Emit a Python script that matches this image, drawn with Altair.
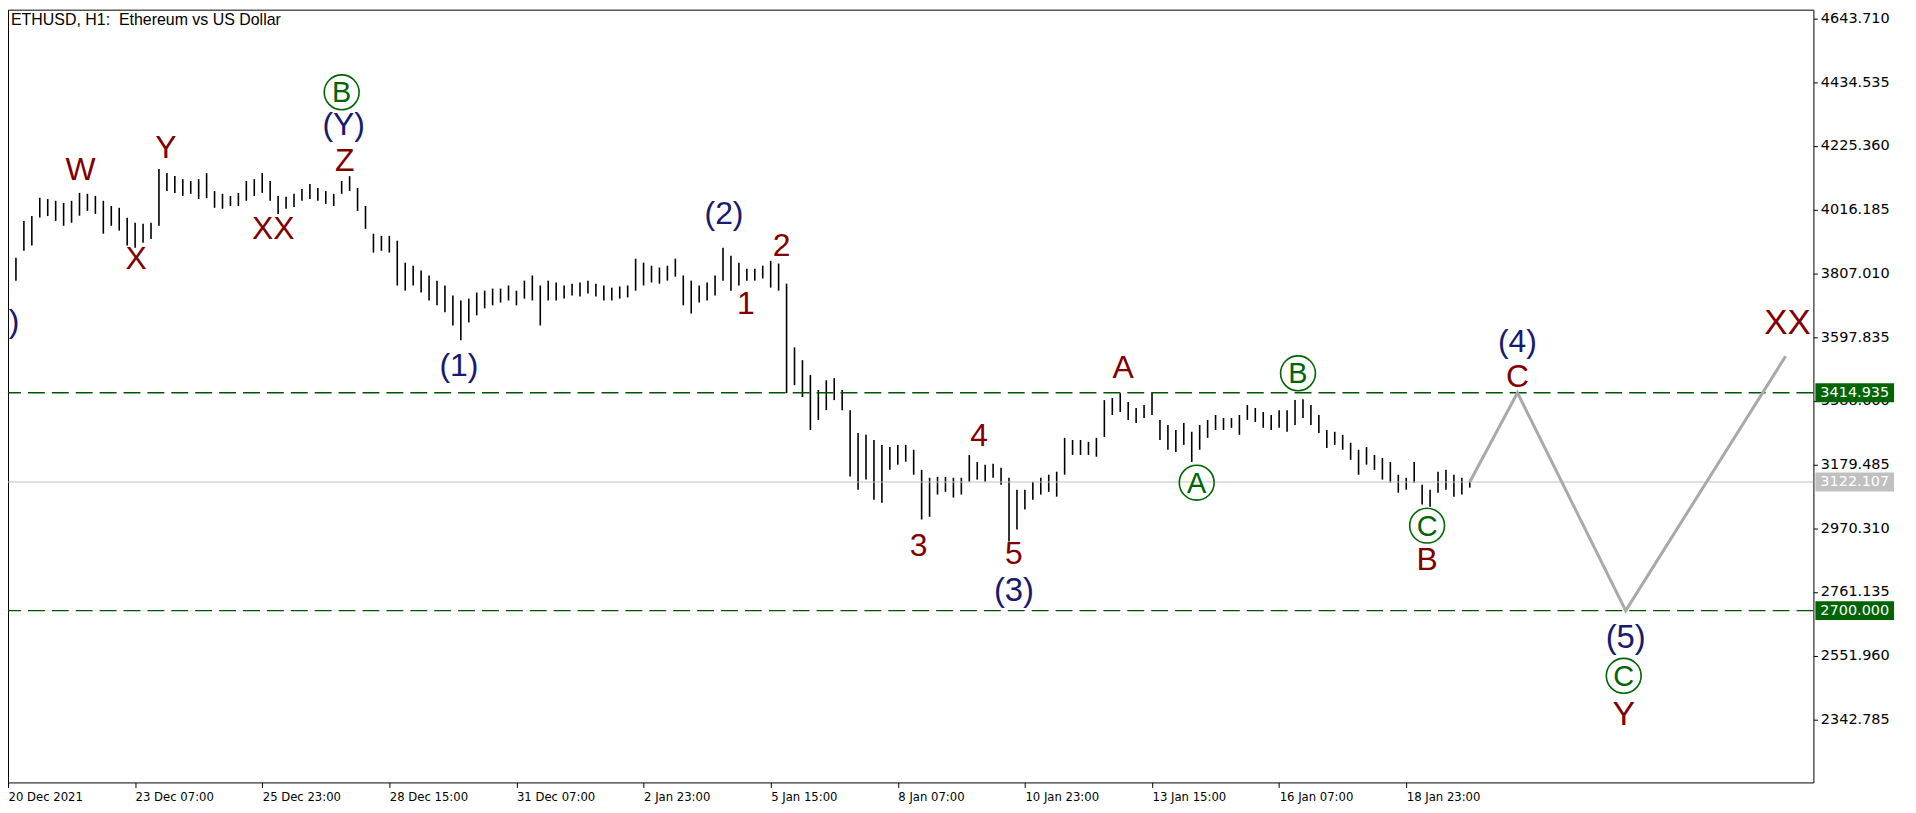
import json
import altair as alt
import pandas as pd

# ---------------- data ----------------
# 4-hour OHLC ranges (hour index from 20 Dec 2021 15:00)
bar_high = [3855,3858,3979,3995,4055,4051,4045,4038,4045,4071,
            4068,4061,4045,4028,4022,3989,3973,3970,3973,4149,
            4136,4126,4116,4110,4116,4136,4077,4068,4061,4071,
            4110,4116,4136,4110,4061,4058,4068,4084,4100,4087,
            4077,4068,4110,4126,4087,4028,3937,3930,3930,3914,
            3842,3832,3816,3800,3783,3767,3734,3718,3724,3744,
            3750,3757,3757,3767,3750,3783,3800,3767,3783,3777,
            3767,3773,3777,3783,3773,3767,3760,3764,3767,3855,
            3842,3832,3826,3832,3855,3800,3783,3767,3777,3800,
            3891,3865,3842,3822,3822,3832,3848,3839,3773,3564,
            3522,3473,3424,3456,3463,3424,3358,3283,3277,3260,
            3244,3237,3244,3244,3228,3162,3136,3139,3139,3136,
            3136,3211,3188,3179,3182,3169,3136,3097,3097,3123,
            3136,3146,3156,3267,3260,3260,3254,3267,3391,3398,
            3414,3385,3365,3375,3414,3326,3309,3293,3316,3287,
            3309,3326,3342,3332,3332,3342,3375,3365,3352,3342,
            3358,3358,3391,3394,3375,3342,3293,3287,3277,3251,
            3228,3237,3211,3201,3188,3146,3136,3188,3113,3097,
            3156,3162,3146,3136,3130]
bar_low = [3750,3783,3881,3898,3990,3995,3979,3963,3973,3996,
           4012,4002,3937,3963,3947,3898,3891,3907,3920,3963,
           4077,4071,4061,4068,4051,4054,4022,4019,4028,4028,
           4045,4061,4071,4045,4002,4019,4025,4045,4051,4045,
           4035,4028,4068,4077,4012,3953,3875,3881,3875,3767,
           3750,3767,3744,3718,3702,3679,3636,3587,3646,3669,
           3692,3702,3711,3718,3702,3724,3718,3636,3718,3718,
           3724,3734,3731,3741,3731,3718,3718,3724,3728,3750,
           3767,3777,3773,3783,3796,3702,3675,3711,3718,3734,
           3783,3750,3767,3783,3783,3790,3760,3750,3414,3440,
           3401,3293,3326,3358,3391,3358,3140,3097,3130,3064,
           3054,3162,3179,3189,3146,2999,3008,3081,3090,3071,
           3081,3123,3130,3123,3136,3113,2927,2966,3032,3064,
           3081,3090,3074,3146,3211,3211,3211,3205,3270,3342,
           3352,3326,3316,3332,3342,3260,3228,3221,3244,3188,
           3228,3267,3293,3293,3300,3277,3326,3319,3300,3293,
           3300,3287,3309,3332,3309,3283,3234,3244,3228,3195,
           3146,3179,3162,3130,3120,3087,3097,3120,3048,3041,
           3087,3097,3074,3081,3104]
bar_hour = list(range(0, 4 * len(bar_high), 4))

# projection path
proj_hour = [736, 760, 814.5, 895]
proj_price = [3122.107, 3414.935, 2700.0, 3535.0]

# horizontal levels
level_dashed = [3414.935, 2700.000]
level_current = [3122.107]

# wave labels
lab_text = ["W", "X", "Y", "XX", "Z", "(Y)", ")", "(1)", "(2)", "1", "2", "3", "4", "5", "(3)",
            "A", "B", "(4)", "C", "(5)", "Y", "XX"]
lab_hour = [36.5, 64.5, 79.5, 133.5, 169.5, 169, 3, 227, 360.5, 371.5, 389.5, 458.5, 489, 506.5, 506.5,
            561.5, 714.5, 760, 760, 814.5, 813.5, 896]
lab_price = [4146, 3855, 4218, 3953, 4177, 4292, 3646, 3502, 4002, 3705, 3898, 2911, 3273, 2885, 2764,
             3496, 2865, 3580, 3468, 2610, 2358, 3643]
lab_kind = ["r", "r", "r", "r", "r", "b", "b", "b", "b", "r", "r", "r", "r", "r", "b",
            "r", "r", "b", "r", "b", "r", "r"]
lab_size = [32, 32, 32, 32, 32, 32, 32, 32, 32, 32, 32, 32, 32, 32, 33,
            32, 32, 32, 32, 33, 34, 35]

# circled labels
circ_text = ["B", "A", "B", "C", "C"]
circ_hour = [168, 598.5, 649.5, 714.5, 813.5]
circ_price = [4401, 3120, 3479, 2979, 2486]

# axis ticks
x_tick_hours = [0, 64, 128, 192, 256, 320, 384, 448, 512, 576, 640, 704]
x_tick_labels = ["20 Dec 2021", "23 Dec 07:00", "25 Dec 23:00", "28 Dec 15:00", "31 Dec 07:00",
                 "2 Jan 23:00", "5 Jan 15:00", "8 Jan 07:00", "10 Jan 23:00", "13 Jan 15:00",
                 "16 Jan 07:00", "18 Jan 23:00"]
y_ticks = [2342.785, 2551.960, 2761.135, 2970.310, 3179.485, 3388.660, 3597.835,
           3807.010, 4016.185, 4225.360, 4434.535, 4643.710]

# price tags on the right axis
tag_price = [3414.935, 3122.107, 2700.000]
tag_fill = ["#006400", "#c0c0c0", "#006400"]

# ---------------- chart ----------------
W, H = 1813, 776
Y_DOM = [2136.2, 4672.2]
X_DOM = [0, 909]
UNITS_PER_PX = (Y_DOM[1] - Y_DOM[0]) / H

RED, NAVY, GREEN = "#800000", "#191970", "#006400"
FONT = "Liberation Sans, Arial, sans-serif"
AXFONT = "DejaVu Sans, Verdana, sans-serif"

xs = alt.Scale(domain=X_DOM, nice=False, zero=False)
ys = alt.Scale(domain=Y_DOM, nice=False, zero=False)

label_expr = json.dumps(x_tick_labels) + "[round(datum.value / 64)]"

x_axis = alt.Axis(values=x_tick_hours, labelExpr=label_expr, orient="bottom", domain=False,
                  grid=False, ticks=True, tickSize=5, tickColor="black", labelAlign="left",
                  labelBaseline="top", labelPadding=3,
                  labelFont="Liberation Sans Narrow, DejaVu Sans Condensed, Liberation Sans",
                  labelFontSize=13, labelColor="black", labelOverlap=False, labelFlush=False,
                  title=None)
y_axis = alt.Axis(values=y_ticks, format=".3f", orient="right", domain=False, grid=False,
                  ticks=True, tickSize=4, tickColor="black", labelAlign="left",
                  labelBaseline="middle", labelPadding=3, labelFont=AXFONT, labelFontSize=14.5,
                  labelColor="black", labelOverlap=False, labelFlush=False, title=None)


def X(field):
    return alt.X(field, scale=xs, axis=x_axis, title=None)


def Y(field):
    return alt.Y(field, scale=ys, axis=y_axis, title=None)


bars_df = pd.DataFrame({"h": bar_hour, "hi": bar_high, "lo": bar_low})
bars = alt.Chart(bars_df).mark_rule(color="black", strokeWidth=1.6).encode(
    x=X("h:Q"), y=Y("lo:Q"), y2="hi:Q")

dashed = alt.Chart(pd.DataFrame({"p": level_dashed})).mark_rule(
    color="#005500", strokeWidth=1.4, strokeDash=[17, 7]).encode(y=Y("p:Q"))

current = alt.Chart(pd.DataFrame({"p": level_current})).mark_rule(
    color="#c0c0c0", strokeWidth=1).encode(y=Y("p:Q"))

proj_df = pd.DataFrame({"h": proj_hour, "p": proj_price, "i": list(range(len(proj_hour)))})
proj = alt.Chart(proj_df).mark_line(color="#a9a9a9", strokeWidth=3).encode(
    x=X("h:Q"), y=Y("p:Q"), order="i:Q")

colmap = {"r": RED, "b": NAVY}
lab_df = pd.DataFrame({"t": lab_text, "h": lab_hour, "p": lab_price,
                       "c": [colmap[k] for k in lab_kind], "s": lab_size})
labels = alt.Chart(lab_df).mark_text(font=FONT, align="center", baseline="middle").encode(
    x=X("h:Q"), y=Y("p:Q"), text="t:N", color=alt.Color("c:N", scale=None),
    size=alt.Size("s:Q", scale=None))

circ_df = pd.DataFrame({"t": circ_text, "h": circ_hour, "p": circ_price})
circles = alt.Chart(circ_df).mark_point(shape="circle", filled=False, color=GREEN,
                                        strokeWidth=1.6, size=1225, opacity=1).encode(
    x=X("h:Q"), y=Y("p:Q"))
circ_letters = alt.Chart(circ_df).mark_text(font=FONT, fontSize=29, align="center",
                                            baseline="middle", color=GREEN, dy=1).encode(
    x=X("h:Q"), y=Y("p:Q"), text="t:N")

half = 9.5 * UNITS_PER_PX
tag_df = pd.DataFrame({"p": tag_price, "fill": tag_fill,
                       "lo": [v - half for v in tag_price], "hi": [v + half for v in tag_price],
                       "txt": [f"{v:.3f}" for v in tag_price]})
tag_box = alt.Chart(tag_df).mark_rect().encode(
    x=alt.value(W + 2), x2=alt.value(W + 81),
    y=Y("lo:Q"), y2="hi:Q",
    fill=alt.Fill("fill:N", scale=None))
tag_txt = alt.Chart(tag_df).mark_text(font=AXFONT, fontSize=14.5, align="left", baseline="middle",
                                      color="white").encode(
    x=alt.value(W + 7), y=Y("p:Q"), text="txt:N")

title = alt.Chart(pd.DataFrame({"t": ["ETHUSD, H1:\u00a0 Ethereum vs US Dollar"]})).mark_text(
    font=FONT, fontSize=16, align="left", baseline="top", color="black").encode(
    x=alt.value(3), y=alt.value(2), text="t:N")

chart = alt.layer(bars, current, dashed, proj, labels, circles, circ_letters,
                  tag_box, tag_txt, title).properties(
    width=W, height=H,
    padding={"left": 0, "top": 0, "right": 95, "bottom": 29},
    autosize=alt.AutoSizeParams(type="none"),
    background="white",
).configure_view(stroke="black", strokeWidth=1)

chart.save("out.html", embed_options={"renderer": "svg", "actions": False})
